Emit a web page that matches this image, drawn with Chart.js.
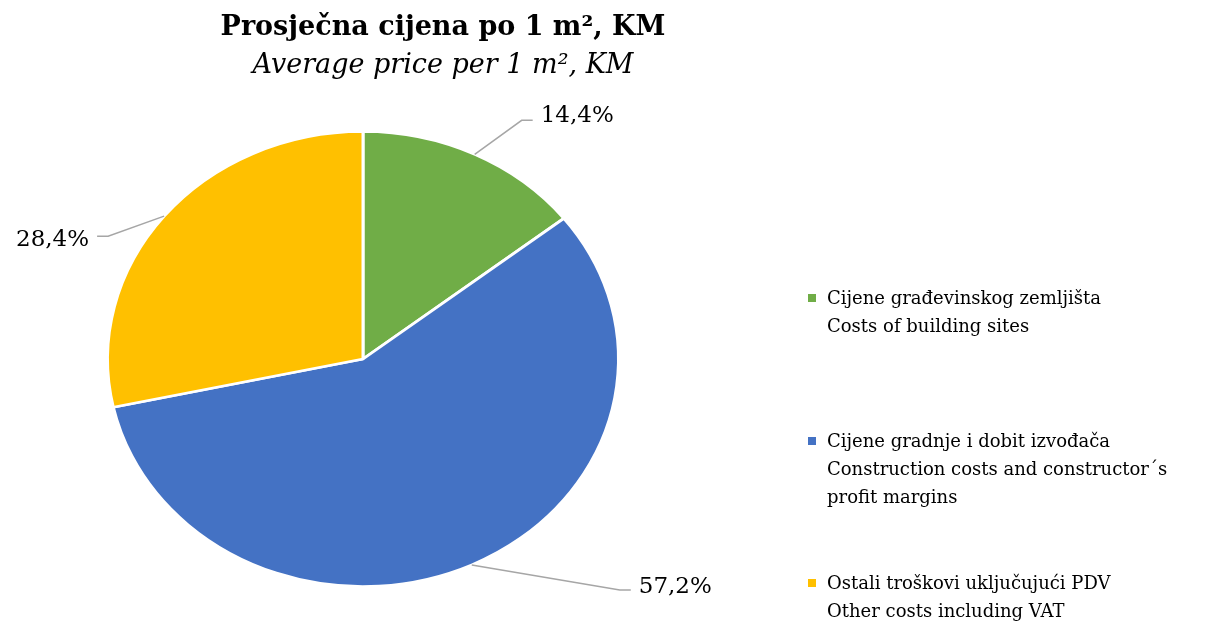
<!DOCTYPE html>
<html>
<head>
<meta charset="utf-8">
<script src="https://cdn.jsdelivr.net/npm/chart.js@4.4.0/dist/chart.umd.min.js"></script>
<style>
  body { margin: 0; background: #fff; }
  #wrap { position: relative; width: 1210px; height: 621px; font-family: "DejaVu Serif", serif; color: #000; }
  #pie { position: absolute; left: 0; top: 0; }
  .title { position: absolute; left: 0; width: 886px; text-align: center; white-space: nowrap; }
  #t1 { top: 10px; font-weight: bold; font-size: 27px; }
  #t2 { top: 48px; font-style: italic; font-size: 27px; }
  #legend { position: absolute; left: 806px; top: 284px; font-size: 18px; line-height: 28px; }
  .item { position: relative; padding-left: 21px; white-space: nowrap; }
  .box { position: absolute; left: 2px; top: 10px; width: 8px; height: 8px; }
</style>
</head>
<body>
<div id="wrap">
  <canvas id="pie" width="1210" height="621"></canvas>
  <div class="title" id="t1">Prosječna cijena po 1 m², KM</div>
  <div class="title" id="t2">Average price per 1 m², KM</div>
  <div id="legend"></div>
</div>
<script>
// podaci
const labelsHr = ['Cijene građevinskog zemljišta', 'Cijene gradnje i dobit izvođača', 'Ostali troškovi uključujući PDV'];
const labelsEn = [['Costs of building sites'], ['Construction costs and constructor´s', 'profit margins'], ['Other costs including VAT']];
const shares = [14.4, 57.2, 28.4];
const colors = ['#70AD47', '#4472C4', '#FFC000'];

// ligging van de labels: elleboog t.o.v. rand, en tekstverschuiving
const labelShift = [[47, -34, -4], [148, 25, -3], [-56, 20, 4]];
const squash = 228 / 256;

const ellipsePlugin = {
  id: 'ellipse',
  beforeDatasetsDraw(chart) {
    const arc = chart.getDatasetMeta(0).data[0];
    const ctx = chart.ctx;
    ctx.save();
    ctx.translate(arc.x, arc.y);
    ctx.scale(1, squash);
    ctx.translate(-arc.x, -arc.y);
  },
  afterDatasetsDraw(chart) {
    chart.ctx.restore();
  }
};

const labelPlugin = {
  id: 'pctLabels',
  afterDraw(chart) {
    const ctx = chart.ctx;
    const meta = chart.getDatasetMeta(0);
    ctx.save();
    ctx.font = '23px "DejaVu Serif"';
    ctx.textBaseline = 'middle';
    meta.data.forEach((arc, i) => {
      const mid = (arc.startAngle + arc.endAngle) / 2;
      const ex = arc.x + arc.outerRadius * Math.cos(mid);
      const ey = arc.y + arc.outerRadius * squash * Math.sin(mid);
      const bx = ex + labelShift[i][0];
      const by = ey + labelShift[i][1];
      const dir = labelShift[i][0] > 0 ? 1 : -1;
      const hx = bx + dir * 11;
      ctx.strokeStyle = '#A6A6A6';
      ctx.lineWidth = 1.5;
      ctx.beginPath();
      ctx.moveTo(ex, ey);
      ctx.lineTo(bx, by);
      ctx.lineTo(hx, by);
      ctx.stroke();
      ctx.fillStyle = '#000';
      ctx.textAlign = dir > 0 ? 'left' : 'right';
      ctx.fillText(shares[i].toFixed(1).replace('.', ',') + '%', hx + dir * 8, by + labelShift[i][2]);
    });
    ctx.restore();
  }
};

new Chart(document.getElementById('pie'), {
  type: 'pie',
  data: {
    labels: labelsHr,
    datasets: [{
      data: shares,
      backgroundColor: colors,
      borderColor: '#fff',
      borderWidth: 3
    }]
  },
  options: {
    responsive: false,
    animation: false,
    layout: { padding: { left: 106, right: 590, top: 102, bottom: 5 } },
    plugins: { legend: { display: false }, tooltip: { enabled: false } }
  },
  plugins: [ellipsePlugin, labelPlugin]
});

// legenda
const legend = document.getElementById('legend');
const gaps = [0, 87, 58];
labelsHr.forEach((hr, i) => {
  const item = document.createElement('div');
  item.className = 'item';
  item.style.marginTop = gaps[i] + 'px';
  item.innerHTML = `<span class="box" style="background:${colors[i]}"></span>${hr}<br>${labelsEn[i].join('<br>')}`;
  legend.appendChild(item);
});
</script>
</body>
</html>
